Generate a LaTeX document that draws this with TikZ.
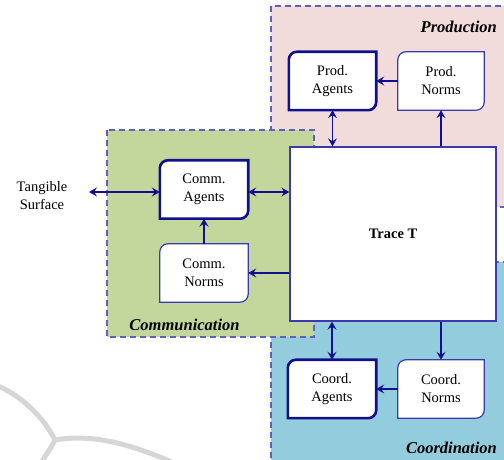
\documentclass[tikz,border=0pt]{standalone}
\usepackage{fontspec}
\setmainfont{Liberation Serif}
\usetikzlibrary{calc,arrows.meta}
\definecolor{pinkbg}{HTML}{F2DCDB}
\definecolor{greenbg}{HTML}{C3D69B}
\definecolor{bluebg}{HTML}{93CDDD}
\definecolor{regline}{HTML}{5F5FBE}
\definecolor{navy}{HTML}{10108E}
\definecolor{normline}{HTML}{3A3AAE}
\definecolor{wmark}{HTML}{D6D6D6}
\newcommand{\mybox}[5]{%
  \path (#2) node[minimum width=#3, minimum height=58pt, inner sep=0pt, draw=none] (#1) {};
  \draw[fill=white,#4] ($(#1.north west)+(0pt,-8pt)$) arc[start angle=180,end angle=90,radius=8pt]
    -- (#1.north east) -- ($(#1.south east)+(0pt,8pt)$) arc[start angle=0,end angle=-90,radius=8pt]
    -- (#1.south west) -- cycle;
  \node[txt] (#1-t) at (#1) {#5};
}
\tikzset{
  txt/.style={align=center, font=\fontsize{14.5}{18}\selectfont, inner sep=0pt},
  region/.style={draw=regline, line width=1.4pt, dash pattern=on 6pt off 4pt},
  agentb/.style={draw=navy, line width=2.6pt},
  normb/.style={draw=normline, line width=1.2pt},
  arr/.style={draw=navy, line width=1.9pt, -{Stealth[length=8pt,width=9pt,inset=3pt]}},
  barr/.style={draw=navy, line width=1.9pt, {Stealth[length=8pt,width=9pt,inset=3pt]}-{Stealth[length=8pt,width=9pt,inset=3pt]}},
  lab/.style={font=\fontsize{16.5}{18}\selectfont\bfseries\itshape, inner sep=0pt}
}
\begin{document}
\begin{tikzpicture}[x=1pt,y=1pt]
\useasboundingbox (0,0) rectangle (504,460);
\clip (0,0) rectangle (504,460);
\fill[white] (0,0) rectangle (504,460);
% watermark
\draw[wmark, line width=5pt] (-2,74) .. controls (22,64) and (44,42) .. (55,20);
\draw[wmark, line width=5pt] (55,20) .. controls (95,27) and (135,14) .. (174,-3);
\draw[wmark, line width=5pt] (55,20) .. controls (50,10) and (45,4) .. (41,-3);
% regions
\path[fill=pinkbg, region] (271,454) rectangle (530,253);
\path[fill=bluebg, region] (271,198) rectangle (530,-12);
\path[fill=greenbg, region] (107,330) rectangle (314,123);
% trace
\node[draw=normline, line width=1.4pt, fill=white, minimum width=206pt, minimum height=174pt, inner sep=0pt,
      font=\fontsize{14.5}{18}\selectfont\bfseries] (trace) at (393,226) {Trace T};
% boxes
\mybox{pa}{332.5,379}{87pt}{agentb}{Prod.\\Agents}
\mybox{pn}{441,379}{86pt}{normb}{Prod.\\Norms}
\mybox{ca}{204,270.5}{88pt}{agentb}{Comm.\\Agents}
\mybox{cn}{204,187}{88pt}{normb}{Comm.\\Norms}
\mybox{coa}{332,71}{88pt}{agentb}{Coord.\\Agents}
\mybox{con}{441,71}{86pt}{normb}{Coord.\\Norms}
% labels
\node[lab, anchor=east] (prodl) at (497,433) {Production};
\node[lab] (comml) at (184.5,135) {Communication};
\node[lab, anchor=east] (coordl) at (497,12) {Coordination};
\node[txt] (ts) at (42,264) {Tangible\\Surface};
\coordinate (tsend) at (89,268);
% arrows
\draw[barr] (tsend) -- (ca.west |- tsend);
\draw[barr] (ca.east |- tsend) -- (trace.west |- tsend);
\draw[arr] (cn.north) -- (ca.south);
\draw[arr] (trace.west |- cn) -- (cn.east);
\draw[barr] (pa.south |- trace.north) -- (pa.south);
\draw[arr] (pn.south |- trace.north) -- (pn.south);
\draw[arr] (pn.west) -- (pa.east);
\draw[barr] (coa.north |- trace.south) -- (coa.north);
\draw[arr] (con.north |- trace.south) -- (con.north);
\draw[arr] (con.west) -- (coa.east);
\end{tikzpicture}
\end{document}
